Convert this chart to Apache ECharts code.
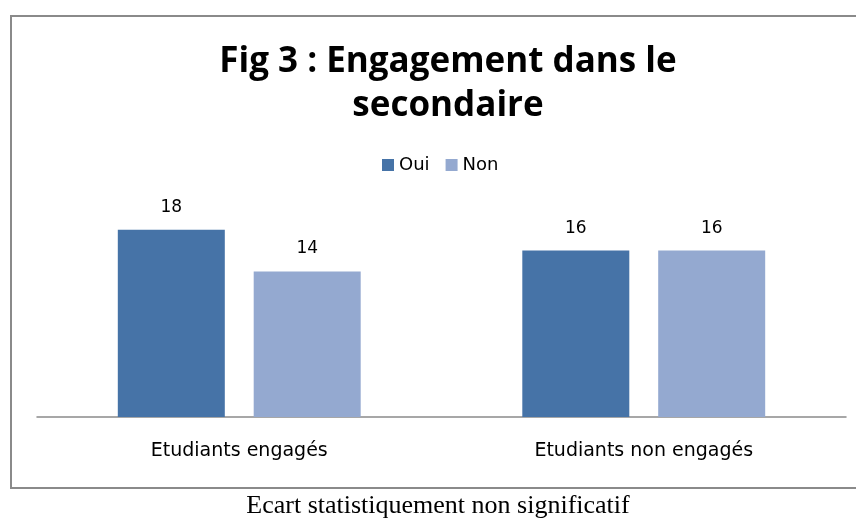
<!DOCTYPE html>
<html>
<head>
<meta charset="utf-8">
<script src="https://cdn.jsdelivr.net/npm/echarts@6/dist/echarts.min.js"></script>
<style>
  html, body { margin: 0; padding: 0; background: #fff; }
  #main { width: 856px; height: 518px; }
</style>
</head>
<body>
<div id="main"></div>
<script>
var categories = ['Etudiants engagés', 'Etudiants non engagés'];
var seriesNames = ['Oui', 'Non'];
var ouiValues = [18, 16];
var nonValues = [14, 16];
var colors = ['#4673A7', '#94A9D0'];

(function(){
    var myChart = echarts.init(document.getElementById('main'));

    var labelStyle = {
        show: true,
        position: 'top',
        distance: 14,
        color: '#000',
        fontSize: 17,
        fontFamily: 'DejaVu Sans'
    };

    option = {
        animation: false,
        backgroundColor: '#fff',
        title: {
            text: 'Fig 3 : Engagement dans le\nsecondaire',
            left: 443,
            top: 35,
            textAlign: 'center',
            textStyle: {
                fontFamily: 'Open Sans',
                fontWeight: 'bold',
                fontSize: 35,
                lineHeight: 44,
                color: '#000'
            }
        },
        legend: {
            data: seriesNames,
            left: 377,
            top: 151,
            itemWidth: 12,
            itemHeight: 12,
            itemGap: 16,
            icon: 'rect',
            textStyle: { fontSize: 18, fontFamily: 'DejaVu Sans', color: '#000' }
        },
        graphic: [
            {
                type: 'rect',
                shape: { x: 11, y: 16, width: 860, height: 472 },
                style: { fill: 'none', stroke: '#8a8a8a', lineWidth: 2 },
                silent: true
            },
            {
                type: 'text',
                x: 438,
                y: 493,
                style: {
                    text: 'Ecart statistiquement non significatif',
                    font: '26px "Liberation Serif"',
                    fill: '#000',
                    align: 'center'
                }
            }
        ],
        grid: {
            left: 37,
            right: 10,
            top: 209,
            bottom: 101
        },
        xAxis: {
            type: 'category',
            data: categories,
            axisLine: { lineStyle: { color: '#8a8a8a', width: 1.5 } },
            axisTick: { show: false },
            axisLabel: {
                margin: 25,
                fontSize: 19,
                fontFamily: 'DejaVu Sans',
                color: '#000'
            }
        },
        yAxis: {
            type: 'value',
            min: 0,
            max: 20,
            show: false,
            splitLine: { show: false }
        },
        series: [
            {
                name: seriesNames[0],
                type: 'bar',
                data: ouiValues,
                barWidth: 107,
                barGap: '27%',
                itemStyle: { color: colors[0] },
                label: labelStyle
            },
            {
                name: seriesNames[1],
                type: 'bar',
                data: nonValues,
                barWidth: 107,
                barGap: '27%',
                itemStyle: { color: colors[1] },
                label: labelStyle
            }
        ]
    };

    myChart.setOption(option);
})();
</script>
</body>
</html>
